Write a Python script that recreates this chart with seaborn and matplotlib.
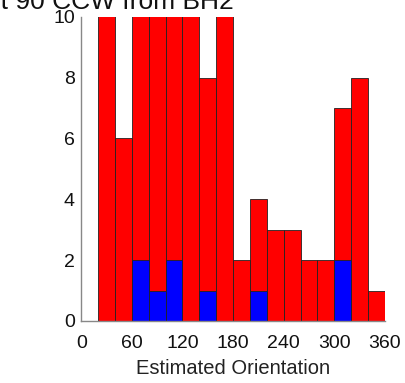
import matplotlib
matplotlib.use("Agg")
import matplotlib.pyplot as plt
import seaborn as sns
import numpy as np

# bin edges (degrees) and counts; bars above 10 are clipped
bin_edges = list(range(0, 361, 20))
bin_centers = [e + 10 for e in bin_edges[:-1]]
all_counts = [0, 12, 6, 11, 13, 12, 11, 8, 12, 2, 4, 3, 3, 2, 2, 7, 8, 1]
sub_counts = [0, 0, 0, 2, 1, 2, 0, 1, 0, 0, 1, 0, 0, 0, 0, 2, 0, 0]
x_ticks = [0, 60, 120, 180, 240, 300, 360]
y_ticks = [0, 2, 4, 6, 8, 10]

sns.set_style("white")
plt.rcParams['font.family'] = ['Liberation Sans', 'DejaVu Sans']

fig = plt.figure(figsize=(4.06, 3.83), dpi=100)
ax = fig.add_axes([0.2, 0.162, 0.748, 0.794])

sns.histplot(x=bin_centers, weights=all_counts, bins=bin_edges, color='#ff0000',
             alpha=1, edgecolor='#222222', linewidth=0.6, ax=ax)
sns.histplot(x=bin_centers, weights=sub_counts, bins=bin_edges, color='#0000ff',
             alpha=1, edgecolor='#222222', linewidth=0.6, ax=ax)

ax.set_xlim(0, 360)
ax.set_ylim(0, 10)
ax.set_xticks(x_ticks)
ax.set_yticks(y_ticks)
ax.set_xlabel('Estimated Orientation', fontsize=14.5, color='#222222', labelpad=5)
ax.set_ylabel('')
ax.tick_params(axis='both', labelsize=14, colors='#111111')
ax.tick_params(axis='x', length=0, pad=10)
ax.tick_params(axis='y', length=2.5, color='#888888', width=0.8, pad=2)
for side in ['top', 'right']:
    ax.spines[side].set_visible(False)
for side in ['left', 'bottom']:
    ax.spines[side].set_color('#888888')
    ax.spines[side].set_linewidth(1.0)

# title is cut off at the left edge in the original
fig.text(234 / 406, 1 - 9 / 383, 'Rot 90 CCW from BH2', ha='right', va='baseline',
         fontsize=19, color='#111111')

fig.savefig('out.png', dpi=100)
